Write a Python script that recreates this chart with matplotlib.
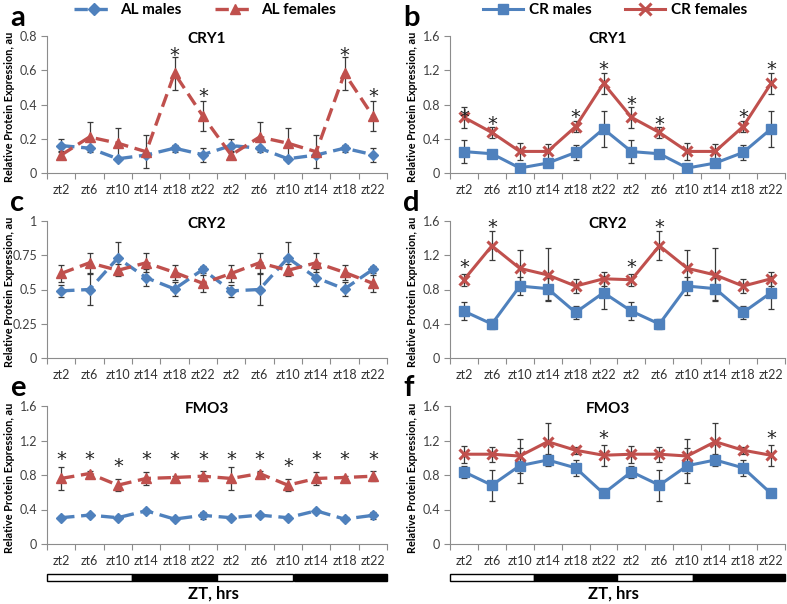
"""Circadian protein expression in liver: AL vs CR, males vs females (double-plotted ZT)."""
import numpy as np
import matplotlib
matplotlib.use("Agg")
import matplotlib.pyplot as plt
from matplotlib.lines import Line2D
from matplotlib.transforms import offset_copy

plt.rcParams["font.family"] = ["Lato", "DejaVu Sans"]

BLUE = "#4F81BD"
RED = "#C0504D"
ERR = "#3a3a3a"
AXIS = "#8c8c8c"

zt_labels = ["zt2", "zt6", "zt10", "zt14", "zt18", "zt22"]

# values per time point (one day); the chart double-plots two days
al_m_cry1 = [0.160, 0.145, 0.083, 0.105, 0.145, 0.107]
al_m_cry1_err = [0.037, 0.012, 0.010, 0.012, 0.020, 0.040]
al_f_cry1 = [0.105, 0.210, 0.174, 0.124, 0.582, 0.333]
al_f_cry1_err = [0.022, 0.090, 0.090, 0.095, 0.097, 0.090]

cr_m_cry1 = [0.250, 0.225, 0.058, 0.116, 0.240, 0.515]
cr_m_cry1_err = [0.135, 0.030, 0.015, 0.025, 0.085, 0.210]
cr_f_cry1 = [0.650, 0.473, 0.252, 0.252, 0.542, 1.046]
cr_f_cry1_err = [0.125, 0.060, 0.097, 0.085, 0.066, 0.120]

al_m_cry2 = [0.490, 0.500, 0.730, 0.586, 0.504, 0.646]
al_m_cry2_err = [0.045, 0.110, 0.120, 0.060, 0.050, 0.025]
al_f_cry2 = [0.617, 0.695, 0.640, 0.695, 0.625, 0.545]
al_f_cry2_err = [0.063, 0.075, 0.045, 0.070, 0.055, 0.060]

cr_m_cry2 = [0.547, 0.397, 0.840, 0.810, 0.532, 0.763]
cr_m_cry2_err = [0.105, 0.060, 0.110, 0.130, 0.080, 0.190]
cr_f_cry2 = [0.914, 1.310, 1.047, 0.970, 0.840, 0.925]
cr_f_cry2_err = [0.070, 0.170, 0.210, 0.310, 0.080, 0.080]

al_m_fmo3 = [0.305, 0.335, 0.305, 0.385, 0.289, 0.332]
al_m_fmo3_err = [0.015, 0.015, 0.012, 0.025, 0.012, 0.040]
al_f_fmo3 = [0.760, 0.817, 0.682, 0.760, 0.771, 0.786]
al_f_fmo3_err = [0.130, 0.030, 0.070, 0.075, 0.020, 0.055]

cr_m_fmo3 = [0.837, 0.682, 0.908, 0.974, 0.883, 0.586]
cr_m_fmo3_err = [0.070, 0.180, 0.200, 0.070, 0.090, 0.030]
cr_f_fmo3 = [1.041, 1.041, 1.020, 1.186, 1.087, 1.029]
cr_f_fmo3_err = [0.100, 0.085, 0.200, 0.220, 0.040, 0.120]

# significance asterisks: (position index over the 12 points, y)
stars_a = [(4, 0.72), (5, 0.48), (10, 0.72), (11, 0.48)]
stars_b = [(0, 0.72), (1, 0.64), (4, 0.72), (5, 1.28),
           (6, 0.87), (7, 0.64), (10, 0.72), (11, 1.28)]
stars_c = []
stars_d = [(0, 1.125), (1, 1.59), (6, 1.125), (7, 1.59)]
stars_e = [(0, 1.05), (1, 1.05), (2, 0.965), (3, 1.05), (4, 1.05), (5, 1.05),
           (6, 1.05), (7, 1.05), (8, 0.965), (9, 1.05), (10, 1.05), (11, 1.05)]
stars_f = [(5, 1.29), (11, 1.29)]

# light/dark bar edges in category units
light_dark_edges = [-0.5, 2.5, 5.5, 8.2, 11.5]

AL_STYLE = dict(
    males=dict(color=BLUE, ls=(0, (4, 2)), lw=2.4, marker="D", ms=5.5),
    females=dict(color=RED, ls=(0, (4, 2)), lw=2.4, marker="^", ms=6.5),
)
CR_STYLE = dict(
    males=dict(color=BLUE, ls="-", lw=2.2, marker="s", ms=6.5),
    females=dict(color=RED, ls="-", lw=2.2, marker="x", ms=7, mew=2.2),
)

STAR_FS = 14


def double(vals):
    return np.tile(np.asarray(vals, dtype=float), 2)


def setup_axes(ax, ymax, yticks, yticklabels, title):
    n = 2 * len(zt_labels)
    ax.set_xlim(-0.5, n - 0.5)
    ax.set_ylim(0, ymax)
    for side in ("top", "right"):
        ax.spines[side].set_visible(False)
    for side in ("left", "bottom"):
        ax.spines[side].set_color(AXIS)
        ax.spines[side].set_linewidth(0.8)
    ax.set_xticks(np.arange(-0.5, n, 1.0))
    ax.set_xticklabels([])
    ax.set_xticks(np.arange(n), minor=True)
    ax.set_xticklabels(zt_labels * 2, minor=True, fontsize=9, color="#333333")
    ax.tick_params(axis="x", which="major", direction="out", length=4, color=AXIS)
    ax.tick_params(axis="x", which="minor", length=0, pad=8)
    ax.set_yticks(yticks)
    ax.set_yticklabels(yticklabels, fontsize=9, color="#404040")
    ax.tick_params(axis="y", direction="out", length=4, color=AXIS, pad=3)
    ax.set_ylabel("Relative Protein Expression, au", fontsize=7.8, fontweight="bold")
    ax.yaxis.set_label_coords(-0.095, 0.48)
    ax.text(0.47, 0.975, title, transform=ax.transAxes, ha="center", va="center",
            fontsize=11, fontweight="bold")


def draw_series(ax, y, err, style):
    x = np.arange(2 * len(zt_labels))
    ax.errorbar(x, double(y), yerr=double(err), fmt="none", ecolor=ERR,
                elinewidth=0.9, capsize=2.5, capthick=0.9, zorder=2)
    st = dict(style)
    ax.plot(x, double(y), color=st.pop("color"), linestyle=st.pop("ls"),
            linewidth=st.pop("lw"), marker=st.pop("marker"), markersize=st.pop("ms"),
            mec=style["color"], mfc=style["color"], zorder=3, **st)


def draw_stars(ax, stars):
    # baseline shifted down so that the glyph centre sits on y
    tr = offset_copy(ax.transData, fig=ax.figure, y=-0.59 * STAR_FS, units="points")
    for i, y in stars:
        ax.text(i, y, "*", transform=tr, ha="center", va="baseline",
                fontsize=STAR_FS, color="#222222", family="DejaVu Sans", zorder=4)


fig = plt.figure(figsize=(7.87, 6.04), dpi=100)
H = 604.0
W = 787.0
col_x = [(47, 387), (450, 785)]
row_y = [(36, 173), (221, 358), (406, 544)]

panels = [
    ("a", 0, 0, al_m_cry1, al_m_cry1_err, al_f_cry1, al_f_cry1_err, AL_STYLE,
     0.8, [0, 0.2, 0.4, 0.6, 0.8], ["0", "0.2", "0.4", "0.6", "0.8"], "CRY1", stars_a),
    ("b", 0, 1, cr_m_cry1, cr_m_cry1_err, cr_f_cry1, cr_f_cry1_err, CR_STYLE,
     1.6, [0, 0.4, 0.8, 1.2, 1.6], ["0", "0.4", "0.8", "1.2", "1.6"], "CRY1", stars_b),
    ("c", 1, 0, al_m_cry2, al_m_cry2_err, al_f_cry2, al_f_cry2_err, AL_STYLE,
     1.0, [0, 0.25, 0.5, 0.75, 1.0], ["0", "0.25", "0.5", "0.75", "1"], "CRY2", stars_c),
    ("d", 1, 1, cr_m_cry2, cr_m_cry2_err, cr_f_cry2, cr_f_cry2_err, CR_STYLE,
     1.6, [0, 0.4, 0.8, 1.2, 1.6], ["0", "0.4", "0.8", "1.2", "1.6"], "CRY2", stars_d),
    ("e", 2, 0, al_m_fmo3, al_m_fmo3_err, al_f_fmo3, al_f_fmo3_err, AL_STYLE,
     1.6, [0, 0.4, 0.8, 1.2, 1.6], ["0", "0.4", "0.8", "1.2", "1.6"], "FMO3", stars_e),
    ("f", 2, 1, cr_m_fmo3, cr_m_fmo3_err, cr_f_fmo3, cr_f_fmo3_err, CR_STYLE,
     1.6, [0, 0.4, 0.8, 1.2, 1.6], ["0", "0.4", "0.8", "1.2", "1.6"], "FMO3", stars_f),
]

for (letter, r, c, m, m_err, f, f_err, style, ymax, yt, ytl, title, stars) in panels:
    x0, x1 = col_x[c]
    y0, y1 = row_y[r]
    ax = fig.add_axes([x0 / W, 1 - y1 / H, (x1 - x0) / W, (y1 - y0) / H])
    setup_axes(ax, ymax, yt, ytl, title)
    draw_series(ax, m, m_err, style["males"])
    draw_series(ax, f, f_err, style["females"])
    draw_stars(ax, stars)
    fig.text((10 if c == 0 else 403) / W, 1 - (y0 - 18) / H, letter,
             fontsize=21, fontweight="bold", ha="left", va="center")

# light/dark bars and x-axis title under the bottom row
for c in range(2):
    x0, x1 = col_x[c]
    bar = fig.add_axes([x0 / W, 1 - 581 / H, (x1 - x0) / W, 7 / H])
    bar.set_xlim(-0.5, 11.5)
    bar.set_ylim(0, 1)
    bar.axis("off")
    for k in range(len(light_dark_edges) - 1):
        lo, hi = light_dark_edges[k], light_dark_edges[k + 1]
        bar.bar((lo + hi) / 2, 1, width=hi - lo, bottom=0,
                color="white" if k % 2 == 0 else "black",
                edgecolor="black", linewidth=1.0, clip_on=False)
    fig.text((x0 + x1) / 2 / W - 0.005, 1 - 594 / H, "ZT, hrs", ha="center",
             va="center", fontsize=12, fontweight="bold")


def legend_handles(style):
    hs = []
    for key in ("males", "females"):
        s = style[key]
        hs.append(Line2D([], [], color=s["color"], linestyle=s["ls"], linewidth=s["lw"],
                         marker=s["marker"], markersize=s["ms"] + 1,
                         mec=s["color"], mfc=s["color"], mew=s.get("mew", 1.0)))
    return hs


fig.legend(legend_handles(AL_STYLE), ["AL males", "AL females"], loc="center",
           bbox_to_anchor=(205 / W, 1 - 10 / H), ncol=2, frameon=False,
           prop=dict(weight="bold", size=11), handlelength=2.6, columnspacing=2.2,
           handletextpad=0.4, borderpad=0)
fig.legend(legend_handles(CR_STYLE), ["CR males", "CR females"], loc="center",
           bbox_to_anchor=(615 / W, 1 - 10 / H), ncol=2, frameon=False,
           prop=dict(weight="bold", size=11), handlelength=2.6, columnspacing=2.2,
           handletextpad=0.4, borderpad=0)

fig.savefig("out.png", dpi=100)
